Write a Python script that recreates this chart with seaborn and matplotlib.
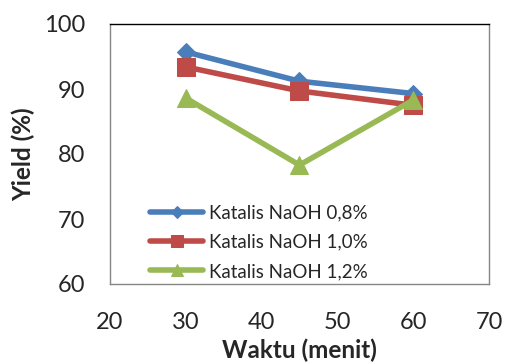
import numpy as np
import pandas as pd
import matplotlib
matplotlib.use("Agg")
import matplotlib.pyplot as plt
import seaborn as sns

# data
waktu = [30, 45, 60]
yield_08 = [95.7, 91.2, 89.3]
yield_10 = [93.4, 89.7, 87.5]
yield_12 = [88.6, 78.3, 88.3]
labels = ["Katalis NaOH 0,8%", "Katalis NaOH 1,0%", "Katalis NaOH 1,2%"]
colors = ["#4A7EBB", "#BE4B48", "#98B954"]
markers = ["D", "s", "^"]

df = pd.DataFrame({
    "Waktu": waktu * 3,
    "Yield": yield_08 + yield_10 + yield_12,
    "Seri": [labels[0]] * 3 + [labels[1]] * 3 + [labels[2]] * 3,
})

sns.set_style("white")
plt.rcParams["font.family"] = ["Lato", "DejaVu Sans"]

fig = plt.figure(figsize=(5.06, 3.62), dpi=100)
ax = fig.add_axes([110 / 506, 1 - 284 / 362, 379 / 506, 260 / 362])

sizes = [9, 13, 13]
for lab, col, mk, ms in zip(labels, colors, markers, sizes):
    sub = df[df["Seri"] == lab]
    sns.lineplot(data=sub, x="Waktu", y="Yield", ax=ax, color=col, marker=mk,
                 markersize=ms, markeredgecolor=col, linewidth=4, label=lab)

ax.set_xlim(20, 70)
ax.set_ylim(60, 100)
ax.set_xticks(range(20, 71, 10))
ax.set_yticks(range(60, 101, 10))
ax.tick_params(axis="both", length=0, labelsize=17)
ax.tick_params(axis="x", pad=20)
ax.tick_params(axis="y", pad=18)
ax.set_xlabel("Waktu (menit)", fontsize=17.5, fontweight="bold", labelpad=4)
ax.set_ylabel("Yield (%)", fontsize=17.5, fontweight="bold", labelpad=6)
for s in ax.spines.values():
    s.set_color("#868686")
    s.set_linewidth(1)
ax.spines["top"].set_color("black")

leg = ax.legend(loc="lower left", bbox_to_anchor=(0.072, -0.035), frameon=False,
                fontsize=13.5, handlelength=2.8, handletextpad=0.3,
                labelspacing=0.65, borderpad=0.2, markerscale=0.7)

fig.savefig("out.png", dpi=100)
